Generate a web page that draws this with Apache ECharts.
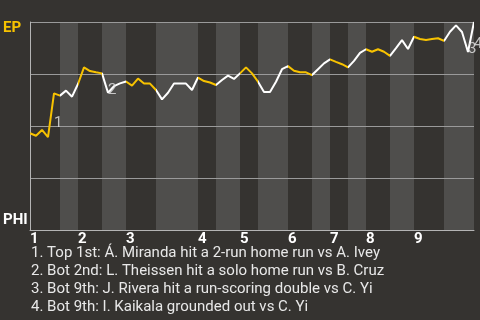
<!DOCTYPE html>
<html>
<head>
<meta charset="utf-8">
<script src="https://cdn.jsdelivr.net/npm/echarts@6/dist/echarts.min.js"></script>
<style>
html,body{margin:0;padding:0;background:#353330;}
#chart{width:480px;height:320px;}
</style>
</head>
<body>
<div id="chart"></div>
<script>
// Win probability for EP (1 = EP wins, 0 = PHI wins), one value per plate appearance
const winProb = [
  0.465, 0.453, 0.481, 0.446, 0.657, 0.646, 0.670, 0.641, 0.702, 0.782,
  0.764, 0.758, 0.753, 0.660, 0.692, 0.705, 0.714, 0.694, 0.728, 0.704,
  0.704, 0.673, 0.628, 0.660, 0.704, 0.704, 0.704, 0.673, 0.733, 0.716,
  0.709, 0.697, 0.721, 0.742, 0.726, 0.753, 0.782, 0.753, 0.713, 0.663,
  0.663, 0.713, 0.773, 0.788, 0.766, 0.758, 0.758, 0.745, 0.773, 0.801,
  0.820, 0.808, 0.797, 0.782, 0.813, 0.852, 0.869, 0.857, 0.869, 0.857,
  0.837, 0.874, 0.913, 0.870, 0.929, 0.918, 0.913, 0.918, 0.922, 0.909,
  0.953, 0.984, 0.952, 0.856, 1.000
];
// Plate-appearance index where each half inning starts (top 1st, bottom 1st, ...)
const halfInningStarts = [0, 5, 8, 12, 16, 21, 28, 31, 35, 38, 43, 47, 50, 53, 56, 60, 64, 69];
const inningLabels = ['1', '2', '3', '4', '5', '6', '7', '8', '9'];
const teamTop = 'EP';
const teamBottom = 'PHI';
// Plate-appearance index of each annotated event
const eventIndex = [4, 13, 73, 74];
const eventNotes = [
  '1. Top 1st: Á. Miranda hit a 2-run home run vs A. Ivey',
  '2. Bot 2nd: L. Theissen hit a solo home run vs B. Cruz',
  '3. Bot 9th: J. Rivera hit a run-scoring double vs C. Yi',
  '4. Bot 9th: I. Kaikala grounded out vs C. Yi'
];

const YELLOW = '#f7c200';
const WHITE = '#ffffff';
const LIGHT_BAND = '#4f4e4c';
const lastIndex = winProb.length - 1;

const halfEnds = halfInningStarts.slice(1).concat([lastIndex]);
const pieces = halfInningStarts.map((s, k) => {
  const p = { gte: s, color: k % 2 === 0 ? YELLOW : WHITE };
  if (k < halfInningStarts.length - 1) p.lt = halfEnds[k]; else p.lte = lastIndex;
  return p;
});
const bands = [];
halfInningStarts.forEach((s, k) => {
  if (k % 2 === 1) bands.push([{ xAxis: s }, { xAxis: halfEnds[k] }]);
});
const inningAt = {};
halfInningStarts.forEach((s, k) => { if (k % 2 === 0) inningAt[s] = inningLabels[k / 2]; });

const lineData = winProb.map((v, i) => [i, v]);
const eventData = eventIndex.map((i, k) => [i - 0.5, (winProb[i - 1] + winProb[i]) / 2, String(k + 1)]);

const chart = echarts.init(document.getElementById('chart'), null, { renderer: 'canvas' });
chart.setOption({
  backgroundColor: '#353330',
  animation: false,
  textStyle: { fontFamily: 'Roboto' },
  title: {
    text: eventNotes.join('\n'),
    left: 31, top: 244, padding: 0,
    textStyle: { color: '#e8e8e8', fontSize: 15, fontWeight: 'normal', lineHeight: 18.1, fontFamily: 'Roboto' }
  },
  grid: { left: 30, right: 6, top: 22, bottom: 90, containLabel: false },
  visualMap: {
    type: 'piecewise', show: false, dimension: 0, seriesIndex: 0, pieces: pieces
  },
  xAxis: {
    type: 'value', min: 0, max: lastIndex, interval: 1, z: 2,
    axisLine: { show: true, lineStyle: { color: '#b4b4b4', width: 1 } },
    axisTick: { show: false },
    splitLine: { show: false },
    axisLabel: {
      color: '#ffffff', fontWeight: 'bold', fontSize: 15, align: 'left', margin: 2,
      formatter: v => inningAt[v] || ''
    }
  },
  yAxis: {
    type: 'value', min: 0, max: 1, interval: 0.25, z: 2,
    axisLine: { show: true, lineStyle: { color: '#b4b4b4', width: 1 } },
    axisTick: { show: false },
    splitLine: { show: true, lineStyle: { color: '#9a9a9a', width: 1 } },
    axisLabel: {
      align: 'left', margin: 27,
      formatter: v => v === 1 ? '{ep|' + teamTop + '}' : (v === 0 ? '{phi|' + teamBottom + '}' : ''),
      rich: {
        ep: { color: YELLOW, fontWeight: 'bold', fontSize: 15, padding: [12, 0, 0, 0] },
        phi: { color: '#ffffff', fontWeight: 'bold', fontSize: 15, padding: [0, 0, 20, 0] }
      }
    }
  },
  series: [
    {
      type: 'line', data: lineData, showSymbol: false, z: 3,
      lineStyle: { width: 2 }, silent: true
    },
    {
      type: 'line', data: lineData, showSymbol: false, z: 1, silent: true,
      lineStyle: { opacity: 0 },
      markArea: { silent: true, itemStyle: { color: LIGHT_BAND }, data: bands }
    },
    {
      type: 'scatter', data: eventData, symbolSize: 0, z: 4, silent: true,
      label: {
        show: true, formatter: p => p.value[2], position: [3, 0],
        align: 'left', verticalAlign: 'top', color: '#e6e6e6', fontSize: 15
      }
    }
  ]
});
</script>
</body>
</html>
